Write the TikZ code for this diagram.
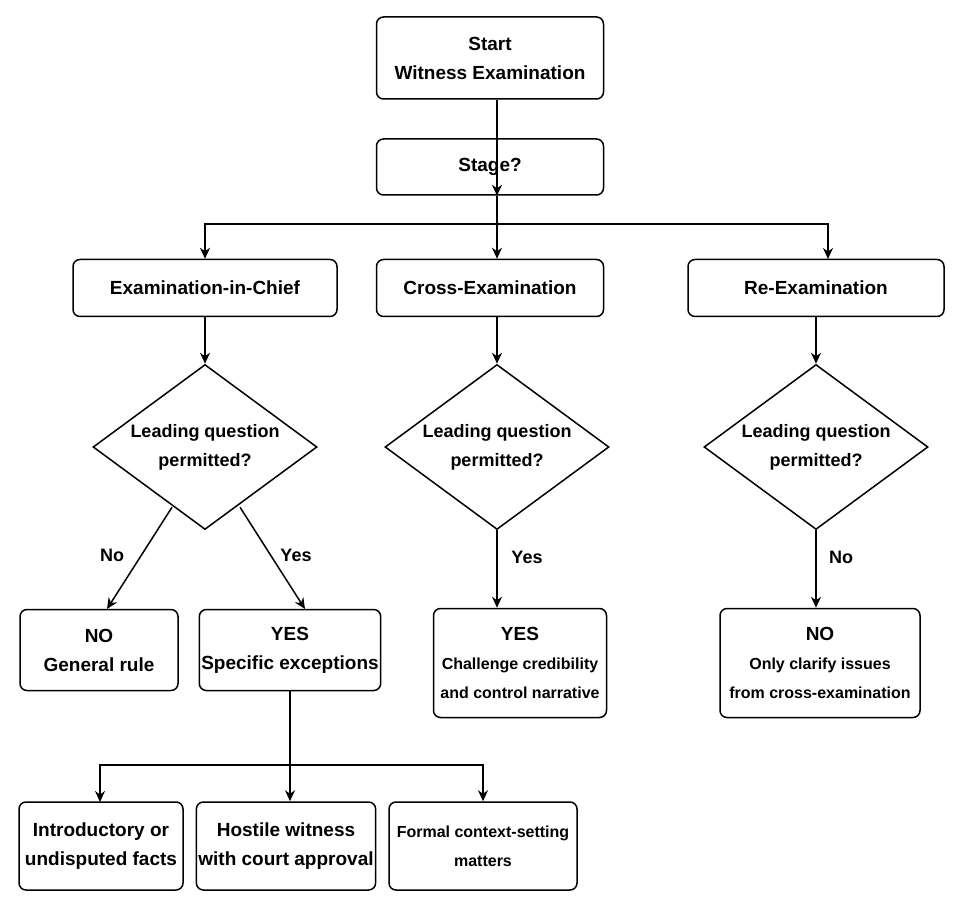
\documentclass[tikz,border=0pt]{standalone}
\usepackage{fontspec}
\setmainfont{Liberation Sans}
\usetikzlibrary{shapes.geometric,arrows.meta}
\tikzset{
  stepbox/.style={draw,line width=1.5pt,rounded corners=7pt,align=center,inner sep=2pt,font=\fontsize{19}{29}\selectfont\bfseries},
  query/.style={draw,line width=1.5pt,diamond,aspect=1.36,minimum width=224pt,minimum height=165pt,inner sep=0pt,align=center,font=\fontsize{18}{29}\selectfont\bfseries},
  link/.style={line width=1.5pt,-{Stealth[length=11pt,width=10pt]}},
  tag/.style={font=\fontsize{18}{22}\selectfont\bfseries}
}
\newcommand{\smalltxt}[1]{{\fontsize{16}{26}\selectfont #1}}
\begin{document}
\begin{tikzpicture}[x=1pt,y=-1pt]
  \useasboundingbox (0,0) rectangle (962,909);

  \node[stepbox,minimum width=227pt,minimum height=82pt] (start) at (490,58) {Start\\Witness Examination};
  \node[stepbox,minimum width=227pt,minimum height=56pt] (stage) at (490,167) {Stage?};

  \node[stepbox,minimum width=264pt,minimum height=57pt] (chief) at (205,288) {Examination-in-Chief};
  \node[stepbox,minimum width=227pt,minimum height=57pt] (cross) at (490,288) {Cross-Examination};
  \node[stepbox,minimum width=256pt,minimum height=57pt] (reex) at (816,288) {Re-Examination};

  \node[query] (qchief) at (205,447) {Leading question\\permitted?};
  \node[query] (qcross) at (497,447) {Leading question\\permitted?};
  \node[query] (qreex) at (816,447) {Leading question\\permitted?};

  \node[stepbox,minimum width=158pt,minimum height=81pt] (rule) at (99,650) {NO\\General rule};
  \node[stepbox,minimum width=175pt,minimum height=81pt] (except) at (290,650) {YES\\Specific exceptions};
  \node[stepbox,minimum width=173pt,minimum height=109pt] (chall) at (520,663) {YES\\\smalltxt{Challenge credibility}\\\smalltxt{and control narrative}};
  \node[stepbox,minimum width=200pt,minimum height=109pt] (clarify) at (820,663) {NO\\\smalltxt{Only clarify issues}\\\smalltxt{from cross-examination}};

  \node[stepbox,minimum width=164pt,minimum height=88pt] (intro) at (101,846) {Introductory or\\undisputed facts};
  \node[stepbox,minimum width=167pt,minimum height=88pt] (hostile) at (286,846) {Hostile witness\\with court approval};
  \node[stepbox,minimum width=188pt,minimum height=88pt] (formal) at (483,846) {\smalltxt{Formal context-setting}\\\smalltxt{matters}};

  \coordinate (split) at (497,224);
  \coordinate (fork) at (290,765);
  \coordinate (noend) at (107,609);
  \coordinate (yesend) at (305,609);

  \draw[link] (start.south -| split) -- (stage.south -| split);
  \draw[line width=1.5pt] (stage.south -| split) -- (split);
  \draw[link] (split) -| (chief.north);
  \draw[link] (split) -- (cross.north -| split);
  \draw[link] (split) -| (828,259);

  \draw[link] (chief.south) -- (qchief.north);
  \draw[link] (cross.south -| qcross) -- (qcross.north);
  \draw[link] (reex.south) -- (qreex.north);

  \draw[link] (qchief.south) ++(-33,-23) -- (noend);
  \draw[link] (qchief.south) ++(35,-23) -- (yesend);
  \node[tag] at (112,555) {No};
  \node[tag] at (296,555) {Yes};
  \draw[link] (qcross.south) -- (qcross.south |- chall.north);
  \node[tag] at (527,557) {Yes};
  \draw[link] (qreex.south) -- (qreex.south |- clarify.north);
  \node[tag] at (841,557) {No};

  \draw[line width=1.5pt] (except.south) -- (fork);
  \draw[link] (fork) -| (100,802);
  \draw[link] (fork) -- (hostile.north -| fork);
  \draw[link] (fork) -| (formal.north);
\end{tikzpicture}
\end{document}
